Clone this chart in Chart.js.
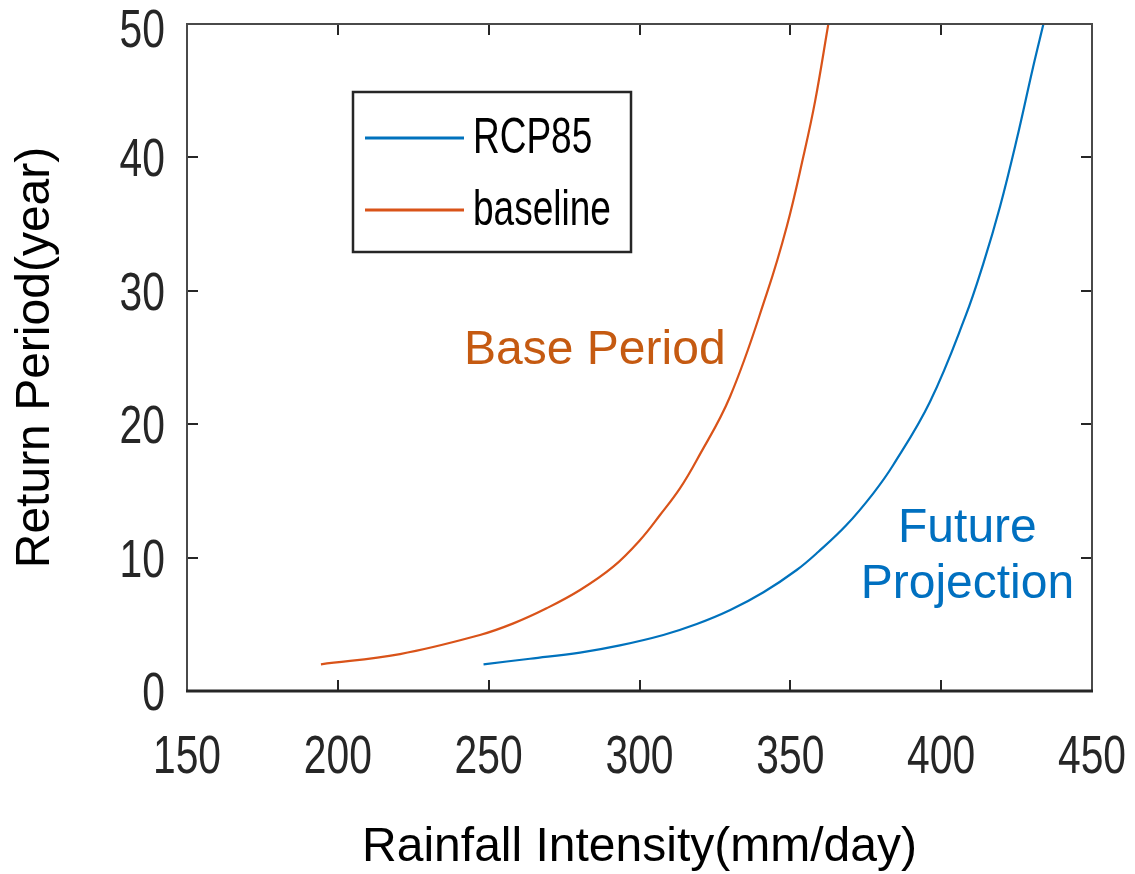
<!DOCTYPE html>
<html>
<head>
<meta charset="utf-8">
<script src="https://cdn.jsdelivr.net/npm/chart.js@4.4.1/dist/chart.umd.min.js"></script>
<style>
html,body{margin:0;padding:0;background:#ffffff;}
#wrap{width:1135px;height:874px;position:relative;}
</style>
</head>
<body>
<div id="wrap"><canvas id="c" width="1135" height="874"></canvas></div>
<script>
// ---- data ----
const xTickValues = [150, 200, 250, 300, 350, 400, 450];
const yTickValues = [0, 10, 20, 30, 40, 50];
const seriesNames = ['RCP85', 'baseline'];
const xAxisTitle = 'Rainfall Intensity(mm/day)';
const yAxisTitle = 'Return Period(year)';
const noteBase = 'Base Period';
const noteFuture = ['Future', 'Projection'];

const rcp85X = [248.3, 263.7, 280.3, 293.5, 307.9, 319.0, 330.1, 341.1, 352.1, 359.3, 368.6, 377.5, 384.1, 396.3, 408.0, 414.0, 419.5, 425.0, 430.5, 433.9];
const rcp85Y = [2.0, 2.42, 2.88, 3.42, 4.2, 5.02, 6.07, 7.4, 9.07, 10.44, 12.44, 14.82, 16.94, 21.69, 28.06, 32.06, 36.3, 41.3, 46.8, 50.0];

const baselineX = [194.4, 220.6, 247.1, 258.2, 269.2, 280.3, 291.3, 300.2, 306.8, 313.4, 319.0, 330.0, 342.2, 348.8, 354.3, 358.2, 362.6];
const baselineY = [2.0, 2.77, 4.2, 5.07, 6.2, 7.57, 9.32, 11.32, 13.19, 15.19, 17.32, 22.06, 29.8, 34.8, 40.05, 44.2, 50.0];

// ---- styling ----
const BLUE = '#0072BD';
const ORANGE = '#D95319';
const AXIS = '#262626';
const SANS = '"Liberation Sans", Arial, sans-serif';
const TICK_FONT = '53px ' + SANS;
const TICK_SQUEEZE = 0.77;     // the reference uses a horizontally condensed face
const LEGEND_FONT = '50px ' + SANS;
const LEGEND_SQUEEZE = 0.74;

function toPoints(xs, ys) { return xs.map((x, i) => ({ x: x, y: ys[i] })); }

function squeezedText(ctx, text, x, y, align, sx) {
  ctx.save();
  ctx.translate(x, y);
  ctx.scale(sx, 1);
  ctx.textAlign = align;
  ctx.fillText(text, 0, 0);
  ctx.restore();
}

// Box, inward ticks (MATLAB style) and tick labels taken from the scales
const boxPlugin = {
  id: 'boxPlugin',
  afterDatasetsDraw(chart) {
    const { ctx, chartArea: a, scales } = chart;
    const sx = scales.x, sy = scales.y;
    ctx.save();
    ctx.lineCap = 'butt';
    ctx.strokeStyle = AXIS;
    ctx.lineWidth = 2;
    const tl = 11;
    sx.ticks.forEach((t, i) => {
      const px = Math.round(sx.getPixelForTick(i));
      ctx.beginPath();
      ctx.moveTo(px, a.bottom); ctx.lineTo(px, a.bottom - tl);
      ctx.moveTo(px, a.top); ctx.lineTo(px, a.top + tl);
      ctx.stroke();
    });
    sy.ticks.forEach((t, i) => {
      const py = Math.round(sy.getPixelForTick(i));
      ctx.beginPath();
      ctx.moveTo(a.left, py); ctx.lineTo(a.left + tl, py);
      ctx.moveTo(a.right, py); ctx.lineTo(a.right - tl, py);
      ctx.stroke();
    });
    ctx.strokeStyle = '#4a4a4a';
    ctx.lineWidth = 2;
    ctx.beginPath();
    ctx.moveTo(a.left, a.bottom); ctx.lineTo(a.left, a.top);
    ctx.lineTo(a.right, a.top); ctx.lineTo(a.right, a.bottom);
    ctx.stroke();
    ctx.strokeStyle = AXIS;
    ctx.lineWidth = 3;
    ctx.beginPath();
    ctx.moveTo(a.left - 1, a.bottom); ctx.lineTo(a.right + 1, a.bottom);
    ctx.stroke();

    // tick labels
    ctx.fillStyle = AXIS;
    ctx.font = TICK_FONT;
    ctx.textBaseline = 'alphabetic';
    sx.ticks.forEach((t, i) => {
      squeezedText(ctx, String(t.value), sx.getPixelForTick(i), a.bottom + 82, 'center', TICK_SQUEEZE);
    });
    sy.ticks.forEach((t, i) => {
      const shift = (i === sy.ticks.length - 1) ? 4 : 0;
      squeezedText(ctx, String(t.value), a.left - 22, sy.getPixelForTick(i) + 19 + shift, 'right', TICK_SQUEEZE);
    });
    ctx.restore();
  }
};

// Legend box inside the plot + text annotations
const notesPlugin = {
  id: 'notesPlugin',
  afterDraw(chart) {
    const { ctx, chartArea: a, scales } = chart;
    ctx.save();
    const L = a.left + 166, T = a.top + 68, W = 278, H = 160;
    ctx.fillStyle = '#ffffff';
    ctx.fillRect(L, T, W, H);
    ctx.strokeStyle = AXIS;
    ctx.lineWidth = 2.5;
    ctx.strokeRect(L, T, W, H);
    chart.data.datasets.forEach((ds, i) => {
      const y = T + 46 + i * 72;
      ctx.strokeStyle = ds.borderColor;
      ctx.lineWidth = 3;
      ctx.beginPath();
      ctx.moveTo(L + 12, y); ctx.lineTo(L + 111, y);
      ctx.stroke();
      ctx.fillStyle = '#000000';
      ctx.font = LEGEND_FONT;
      ctx.textBaseline = 'middle';
      squeezedText(ctx, ds.label, L + 120, y + 1, 'left', LEGEND_SQUEEZE);
    });
    ctx.font = '48px ' + SANS;
    ctx.textAlign = 'center';
    ctx.textBaseline = 'alphabetic';
    ctx.fillStyle = '#C55A11';
    ctx.fillText(noteBase, scales.x.getPixelForValue(285.2), scales.y.getPixelForValue(24.5));
    ctx.fillStyle = '#0070C0';
    ctx.fillText(noteFuture[0], scales.x.getPixelForValue(408.7), scales.y.getPixelForValue(11.19));
    ctx.fillText(noteFuture[1], scales.x.getPixelForValue(408.7), scales.y.getPixelForValue(6.95));
    ctx.restore();
  }
};

new Chart(document.getElementById('c'), {
  type: 'scatter',
  data: {
    datasets: [
      {
        label: seriesNames[0],
        data: toPoints(rcp85X, rcp85Y),
        showLine: true,
        borderColor: BLUE,
        backgroundColor: BLUE,
        borderWidth: 2.2,
        pointRadius: 0,
        tension: 0.4,
        fill: false
      },
      {
        label: seriesNames[1],
        data: toPoints(baselineX, baselineY),
        showLine: true,
        borderColor: ORANGE,
        backgroundColor: ORANGE,
        borderWidth: 2.2,
        pointRadius: 0,
        tension: 0.4,
        fill: false
      }
    ]
  },
  options: {
    responsive: false,
    animation: false,
    devicePixelRatio: 1,
    layout: { padding: { top: 24, right: 43, bottom: 0, left: 0 } },
    plugins: {
      legend: { display: false },
      tooltip: { enabled: false }
    },
    scales: {
      x: {
        type: 'linear',
        min: 150, max: 450,
        afterBuildTicks: s => { s.ticks = xTickValues.map(v => ({ value: v })); },
        afterFit: s => { s.height = 183; s.paddingLeft = 0; s.paddingRight = 0; s.paddingTop = 0; s.paddingBottom = 0; },
        grid: { display: false, drawTicks: false },
        border: { display: false },
        ticks: { display: false, autoSkip: false },
        title: {
          display: true,
          text: xAxisTitle,
          color: '#000000',
          font: { family: SANS, size: 48, lineHeight: 1 },
          padding: { top: 0, bottom: 2 }
        }
      },
      y: {
        type: 'linear',
        min: 0, max: 50,
        afterBuildTicks: s => { s.ticks = yTickValues.map(v => ({ value: v })); },
        afterFit: s => { s.width = 187; s.paddingLeft = 0; s.paddingRight = 0; s.paddingTop = 0; s.paddingBottom = 0; },
        grid: { display: false, drawTicks: false },
        border: { display: false },
        ticks: { display: false, autoSkip: false },
        title: {
          display: true,
          text: yAxisTitle,
          color: '#000000',
          font: { family: SANS, size: 48, lineHeight: 1 },
          padding: { top: 12, bottom: 0 }
        }
      }
    }
  },
  plugins: [boxPlugin, notesPlugin]
});
</script>
</body>
</html>
